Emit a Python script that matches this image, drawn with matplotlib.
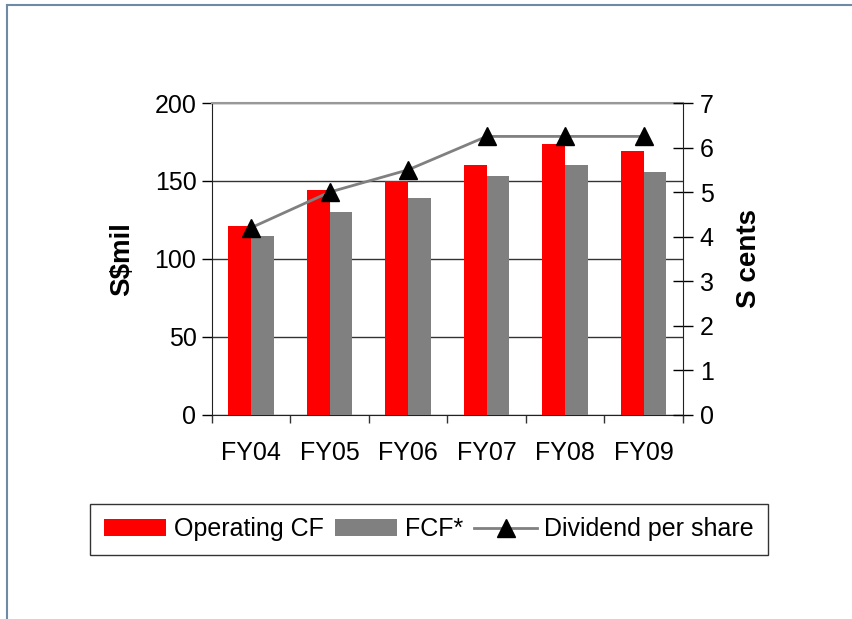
import numpy as np
import matplotlib.pyplot as plt
from matplotlib.lines import Line2D
from matplotlib.patches import Patch

plt.rcParams['font.family'] = ['Liberation Sans', 'DejaVu Sans']

# === DATA ===
years = ["FY04", "FY05", "FY06", "FY07", "FY08", "FY09"]
operating_cf = [121, 144, 150, 160, 174, 169]
fcf = [115, 130, 139, 153, 160, 156]
dividend = [4.2, 5.0, 5.5, 6.25, 6.25, 6.25]

# === FIGURE ===
fig = plt.figure(figsize=(8.52, 6.19), dpi=100)
ax = fig.add_axes([0.2485, 0.3296, 0.5531, 0.504])

x = np.arange(len(years))
w = 0.29
ax.bar(x - w / 2, operating_cf, w, color='#ff0000', zorder=3)
ax.bar(x + w / 2, fcf, w, color='#808080', zorder=3)

ax.set_xlim(-0.5, len(years) - 0.5)
ax.set_ylim(0, 200)
ax.set_yticks([0, 50, 100, 150, 200])
ax.set_xticks(np.arange(-0.5, len(years), 1.0))
ax.set_xticks(x, minor=True)
ax.set_xticklabels([])
ax.set_xticklabels(years, minor=True)
ax.tick_params(axis='x', which='major', direction='out', length=6, width=1, color='#333333')
ax.tick_params(axis='x', which='minor', length=0, pad=19, labelsize=18)
ax.tick_params(axis='y', direction='out', length=7, width=1, labelsize=18, pad=4)
ax.grid(axis='y', color='#333333', linewidth=1, zorder=0)
for s in ['left', 'bottom']:
    ax.spines[s].set_color('#222222')
ax.spines['top'].set_color('#999999')
ax.spines['top'].set_linewidth(1.5)
ax.spines['right'].set_visible(False)
ax.set_ylabel("S$mil", fontsize=20, fontweight='bold', labelpad=14)

# dividend on secondary axis
ax2 = ax.twinx()
ax2.plot(x, dividend, color='#808080', linewidth=2, marker='^', markersize=13,
         markerfacecolor='black', markeredgecolor='black', zorder=4)
ax2.set_ylim(0, 7)
ax2.set_yticks(range(0, 8))
ax2.tick_params(axis='y', direction='inout', length=14, width=1, labelsize=18, pad=5)
ax2.spines['right'].set_color('#222222')
for s in ['top', 'left', 'bottom']:
    ax2.spines[s].set_visible(False)
ax2.set_ylabel("S cents", fontsize=20, fontweight='bold', labelpad=16)

# legend
handles = [
    Patch(facecolor='#ff0000', edgecolor='none'),
    Patch(facecolor='#808080', edgecolor='none'),
    Line2D([], [], color='#808080', linewidth=2, marker='^', markersize=13,
           markerfacecolor='black', markeredgecolor='black'),
]
labels = ["Operating CF", "FCF*", "Dividend per share"]
leg = fig.legend(handles, labels, loc='center', bbox_to_anchor=(0.5035, 0.1446),
                 ncol=3, fontsize=18, frameon=True, fancybox=False,
                 handlelength=2.5, handleheight=0.7, handletextpad=0.3,
                 columnspacing=0.45, borderpad=0.55)
leg.get_frame().set_edgecolor('black')
leg.get_frame().set_linewidth(1)

# slide frame lines
fig.add_artist(Line2D([0.008, 1.0], [0.992, 0.992], color='#6f8aa3', linewidth=1.5,
                      transform=fig.transFigure))
fig.add_artist(Line2D([0.008, 0.008], [0.0, 0.992], color='#6f8aa3', linewidth=1.5,
                      transform=fig.transFigure))

fig.savefig("out.png", dpi=100)
